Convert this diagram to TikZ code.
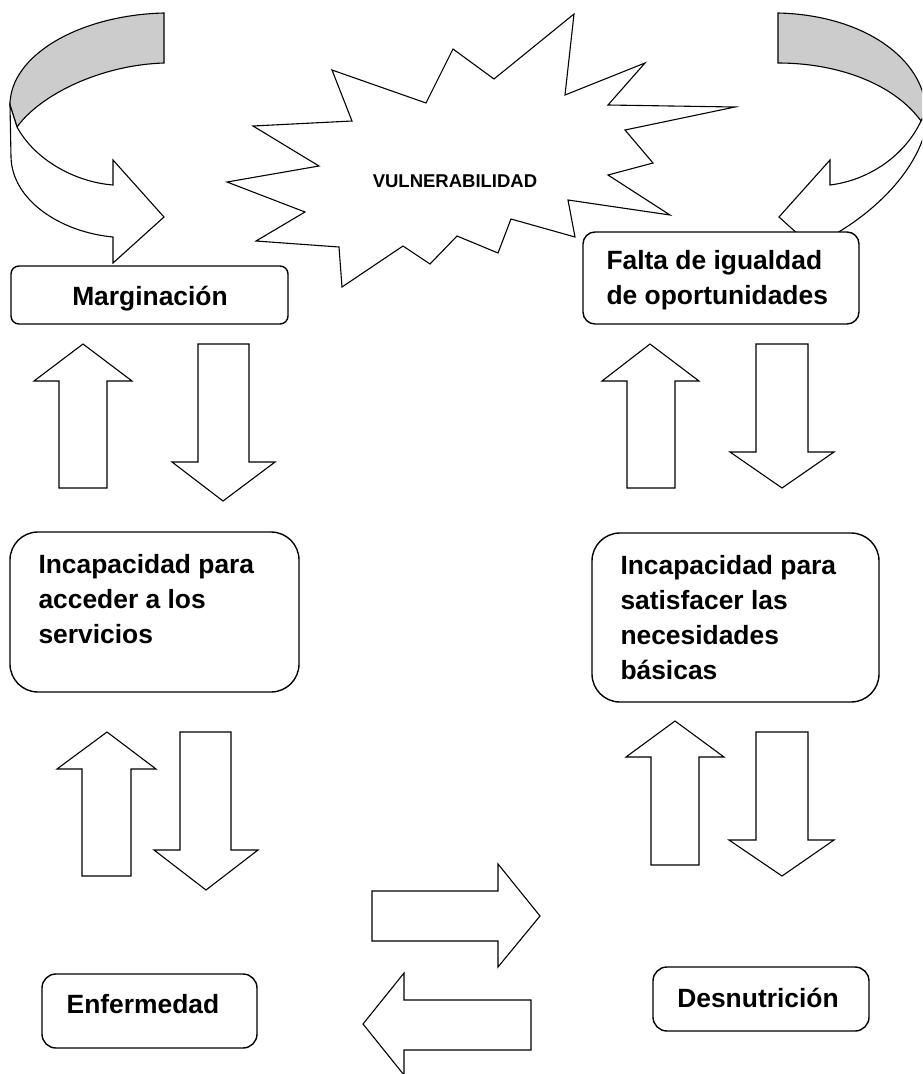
\documentclass[tikz,border=0pt]{standalone}
\usepackage{fontspec}
\setmainfont{Liberation Sans}
\usetikzlibrary{positioning}
\definecolor{ribbongray}{gray}{0.8}

\begin{document}
\begin{tikzpicture}[x=1pt, y=-1pt,
  box/.style={draw, line width=1.4pt, fill=white, inner sep=0pt},
  lbl/.style={font=\fontsize{26.4}{35}\selectfont\bfseries, inner sep=0pt, align=left},
  blockarrow/.style={draw, line width=1.1pt, fill=white, line join=miter}]
  \useasboundingbox (0,0) rectangle (922,1074);
  \clip (0,0) rectangle (922,1074);

  % curved ribbon arrows at the top corners
  \draw[blockarrow, fill=ribbongray] (164,13) .. controls (80,15) and (10,55) .. (10,105)
    -- (17,127) .. controls (40,95) and (100,65) .. (164,63) -- cycle;
  \draw[blockarrow] (17,127) .. controls (35,160) and (75,182) .. (113,185)
    -- (113,160) -- (164,217) -- (113,263) -- (113,237)
    .. controls (60,232) and (12,200) .. (11,157) -- (10,105) -- cycle;
  \draw[blockarrow, fill=ribbongray] (778,13) .. controls (865,15) and (925,60) .. (926,112)
    -- (921,121) .. controls (895,85) and (840,63) .. (778,63) -- cycle;
  \draw[blockarrow] (921,121) .. controls (905,155) and (870,180) .. (830,185)
    -- (830,160) -- (779,217) -- (830,263) -- (830,237)
    .. controls (870,215) and (915,175) .. (926,128) -- (926,112) -- cycle;

  % starburst
  \draw[blockarrow] (332,70) -- (426,103) -- (453,49) -- (494,79) -- (574,14) -- (565,95)
    -- (645,63) -- (608,105) -- (735,107) -- (625,130) -- (653,163) -- (608,175)
    -- (670,215) -- (568,200) -- (575,237) -- (511,219) -- (498,253) -- (457,236)
    -- (430,264) -- (403,246) -- (342,287) -- (339,247) -- (256,241) -- (305,212)
    -- (227,182) -- (319,166) -- (253,126) -- (352,121) -- cycle;
  \node[font=\fontsize{18.5}{22}\selectfont\bfseries, inner sep=0pt, anchor=base] (vul) at (455,187) {VULNERABILIDAD};

  % boxes
  \node[box, minimum width=277pt, minimum height=58pt, rounded corners=8pt] (marg) at (149.5,295) {};
  \node[box, minimum width=276pt, minimum height=92pt, rounded corners=12pt] (falta) at (721,278) {};
  \node[box, minimum width=289pt, minimum height=160pt, rounded corners=28pt] (acceso) at (154.5,612) {};
  \node[box, minimum width=287pt, minimum height=169pt, rounded corners=28pt] (necesidad) at (735.5,617.5) {};
  \node[box, minimum width=215pt, minimum height=74pt, rounded corners=14pt] (enferm) at (149.5,1011) {};
  \node[box, minimum width=216pt, minimum height=64pt, rounded corners=14pt] (desnut) at (761,999) {};

  \node[lbl, anchor=base] (margtxt) at (150,305) {Marginación};
  \node[lbl, below right=19pt and 24pt of falta.north west] (faltatxt) {Falta de igualdad\\de oportunidades};
  \node[lbl, below right=23pt and 29pt of acceso.north west] (accesotxt) {Incapacidad para\\acceder a los\\servicios};
  \node[lbl, below right=23pt and 29pt of necesidad.north west] (necesidadtxt) {Incapacidad para\\satisfacer las\\necesidades\\básicas};
  \node[lbl, anchor=base] (enfermtxt) at (143,1013) {Enfermedad};
  \node[lbl, anchor=base] (desnuttxt) at (758,1007) {Desnutrición};

  % block arrows between the boxes
  \draw[blockarrow] (83,344) -- (132,381) -- (107,381) -- (107,488) -- (59,488) -- (59,381) -- (34,381) -- cycle;
  \draw[blockarrow] (198,344) -- (249,344) -- (249,462) -- (275,462) -- (223,501) -- (172,462) -- (198,462) -- cycle;
  \draw[blockarrow] (650,344) -- (699,381) -- (675,381) -- (675,488) -- (627,488) -- (627,381) -- (602,381) -- cycle;
  \draw[blockarrow] (756,344) -- (808,344) -- (808,452) -- (834,452) -- (782,488) -- (730,452) -- (756,452) -- cycle;
  \draw[blockarrow] (107,732) -- (156,769) -- (131,769) -- (131,876) -- (82,876) -- (82,769) -- (57,769) -- cycle;
  \draw[blockarrow] (180,732) -- (231,732) -- (231,850) -- (258,850) -- (206,890) -- (154,850) -- (180,850) -- cycle;
  \draw[blockarrow] (675,721) -- (724,757) -- (699,757) -- (699,865) -- (651,865) -- (651,757) -- (626,757) -- cycle;
  \draw[blockarrow] (756,732) -- (808,732) -- (808,840) -- (834,840) -- (782,876) -- (729,840) -- (756,840) -- cycle;
  \draw[blockarrow] (372,891) -- (498,891) -- (498,864) -- (540,916) -- (498,967) -- (498,941) -- (372,941) -- cycle;
  \draw[blockarrow] (531,1000) -- (404,1000) -- (404,973) -- (363,1024) -- (404,1075) -- (404,1050) -- (531,1050) -- cycle;
\end{tikzpicture}
\end{document}
